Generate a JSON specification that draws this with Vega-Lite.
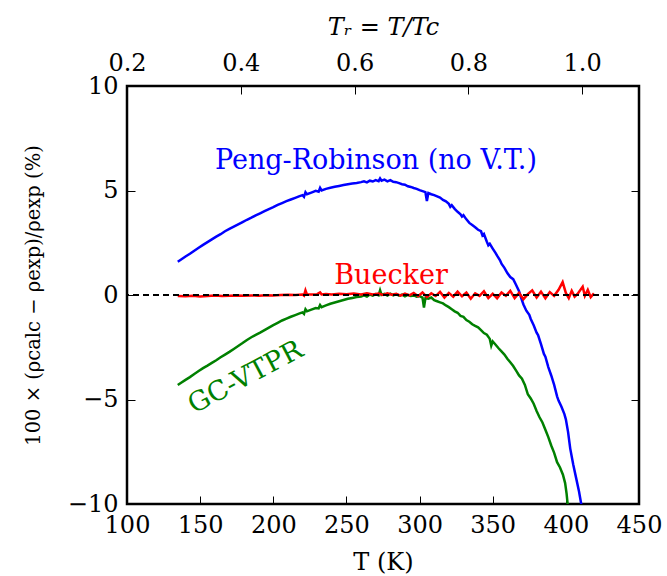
{
  "$schema": "https://vega.github.io/schema/vega-lite/v6.json",
  "width": 512,
  "height": 418,
  "padding": {"left": 23, "top": 15, "right": 5, "bottom": 5},
  "background": "white",
  "config": {
    "font": "DejaVu Serif",
    "view": {"stroke": "black", "strokeWidth": 2.5},
    "axis": {
      "domain": false, "grid": false, "tickColor": "black", "tickWidth": 1, "tickSize": -8,
      "labelFont": "DejaVu Serif", "titleFont": "DejaVu Serif",
      "labelFontSize": 24, "titleFontSize": 24, "labelColor": "black", "titleColor": "black",
      "titleFontWeight": "normal", "labelFlush": false, "labelOverlap": false, "labelBound": false
    }
  },
  "datasets": {
    "curves": [
      {"m":"PR","T":134.7,"v":1.59},{"m":"PR","T":137,"v":1.70},{"m":"PR","T":140,"v":1.84},{"m":"PR","T":143,"v":1.97},{"m":"PR","T":146,"v":2.12},{"m":"PR","T":149,"v":2.26},{"m":"PR","T":152,"v":2.40},{"m":"PR","T":155,"v":2.53},{"m":"PR","T":158,"v":2.66},{"m":"PR","T":161,"v":2.79},{"m":"PR","T":164,"v":2.91},{"m":"PR","T":167,"v":3.05},{"m":"PR","T":170,"v":3.16},{"m":"PR","T":173,"v":3.27},{"m":"PR","T":176,"v":3.38},{"m":"PR","T":179,"v":3.49},{"m":"PR","T":182,"v":3.60},{"m":"PR","T":185,"v":3.70},{"m":"PR","T":188,"v":3.81},{"m":"PR","T":191,"v":3.91},{"m":"PR","T":194,"v":4.01},{"m":"PR","T":197,"v":4.11},{"m":"PR","T":200,"v":4.20},{"m":"PR","T":203,"v":4.31},{"m":"PR","T":206,"v":4.40},{"m":"PR","T":209,"v":4.49},{"m":"PR","T":212,"v":4.57},{"m":"PR","T":215,"v":4.65},{"m":"PR","T":218,"v":4.73},{"m":"PR","T":220,"v":4.78},{"m":"PR","T":221,"v":4.70},{"m":"PR","T":222,"v":4.92},{"m":"PR","T":223,"v":4.82},{"m":"PR","T":226,"v":4.90},{"m":"PR","T":229,"v":4.98},{"m":"PR","T":231,"v":4.94},{"m":"PR","T":232,"v":5.12},{"m":"PR","T":233,"v":5.00},{"m":"PR","T":236,"v":5.08},{"m":"PR","T":239,"v":5.13},{"m":"PR","T":242,"v":5.18},{"m":"PR","T":245,"v":5.22},{"m":"PR","T":248,"v":5.26},{"m":"PR","T":251,"v":5.30},{"m":"PR","T":254,"v":5.33},{"m":"PR","T":257,"v":5.36},{"m":"PR","T":260,"v":5.40},{"m":"PR","T":262,"v":5.44},{"m":"PR","T":264,"v":5.39},{"m":"PR","T":266,"v":5.47},{"m":"PR","T":268,"v":5.43},{"m":"PR","T":270,"v":5.50},{"m":"PR","T":272,"v":5.45},{"m":"PR","T":273,"v":5.58},{"m":"PR","T":274,"v":5.47},{"m":"PR","T":276,"v":5.52},{"m":"PR","T":278,"v":5.44},{"m":"PR","T":280,"v":5.50},{"m":"PR","T":282,"v":5.42},{"m":"PR","T":284,"v":5.40},{"m":"PR","T":286,"v":5.35},{"m":"PR","T":288,"v":5.30},{"m":"PR","T":290,"v":5.28},{"m":"PR","T":292,"v":5.20},{"m":"PR","T":294,"v":5.17},{"m":"PR","T":296,"v":5.12},{"m":"PR","T":298,"v":5.08},{"m":"PR","T":300,"v":5.02},{"m":"PR","T":302,"v":4.97},{"m":"PR","T":304,"v":4.92},{"m":"PR","T":305,"v":4.50},{"m":"PR","T":306,"v":4.88},{"m":"PR","T":308,"v":4.82},{"m":"PR","T":310,"v":4.78},{"m":"PR","T":312,"v":4.72},{"m":"PR","T":314,"v":4.66},{"m":"PR","T":316,"v":4.55},{"m":"PR","T":318,"v":4.48},{"m":"PR","T":320,"v":4.36},{"m":"PR","T":321,"v":4.22},{"m":"PR","T":322,"v":4.30},{"m":"PR","T":324,"v":4.12},{"m":"PR","T":326,"v":3.98},{"m":"PR","T":328,"v":3.86},{"m":"PR","T":329,"v":3.75},{"m":"PR","T":330,"v":3.82},{"m":"PR","T":332,"v":3.62},{"m":"PR","T":334,"v":3.45},{"m":"PR","T":336,"v":3.35},{"m":"PR","T":338,"v":3.24},{"m":"PR","T":340,"v":3.12},{"m":"PR","T":342,"v":3.05},{"m":"PR","T":343,"v":2.85},{"m":"PR","T":344,"v":2.92},{"m":"PR","T":346,"v":2.55},{"m":"PR","T":347,"v":2.38},{"m":"PR","T":348,"v":2.45},{"m":"PR","T":350,"v":2.22},{"m":"PR","T":352,"v":2.00},{"m":"PR","T":353,"v":1.88},{"m":"PR","T":355,"v":1.66},{"m":"PR","T":356,"v":1.50},{"m":"PR","T":358,"v":1.30},{"m":"PR","T":360,"v":1.05},{"m":"PR","T":362,"v":0.86},{"m":"PR","T":364,"v":0.76},{"m":"PR","T":366,"v":0.48},{"m":"PR","T":368,"v":0.18},{"m":"PR","T":369.5,"v":-0.15},{"m":"PR","T":371,"v":-0.45},{"m":"PR","T":373,"v":-0.75},{"m":"PR","T":375,"v":-0.95},{"m":"PR","T":376,"v":-1.15},{"m":"PR","T":378,"v":-1.45},{"m":"PR","T":380,"v":-1.80},{"m":"PR","T":381,"v":-1.92},{"m":"PR","T":383,"v":-2.35},{"m":"PR","T":385,"v":-2.82},{"m":"PR","T":386,"v":-2.95},{"m":"PR","T":388,"v":-3.45},{"m":"PR","T":390,"v":-3.85},{"m":"PR","T":392,"v":-4.30},{"m":"PR","T":394,"v":-4.85},{"m":"PR","T":395,"v":-5.05},{"m":"PR","T":397,"v":-5.35},{"m":"PR","T":399,"v":-5.70},{"m":"PR","T":400,"v":-5.95},{"m":"PR","T":401.5,"v":-6.55},{"m":"PR","T":403,"v":-7.35},{"m":"PR","T":405,"v":-8.10},{"m":"PR","T":407,"v":-8.75},{"m":"PR","T":409,"v":-9.40},{"m":"PR","T":411,"v":-10.2},
      {"m":"GC","T":134.7,"v":-4.31},{"m":"GC","T":137,"v":-4.20},{"m":"GC","T":140,"v":-4.06},{"m":"GC","T":143,"v":-3.93},{"m":"GC","T":146,"v":-3.78},{"m":"GC","T":149,"v":-3.64},{"m":"GC","T":152,"v":-3.50},{"m":"GC","T":155,"v":-3.38},{"m":"GC","T":158,"v":-3.25},{"m":"GC","T":161,"v":-3.12},{"m":"GC","T":164,"v":-2.98},{"m":"GC","T":167,"v":-2.85},{"m":"GC","T":170,"v":-2.72},{"m":"GC","T":173,"v":-2.58},{"m":"GC","T":176,"v":-2.44},{"m":"GC","T":179,"v":-2.30},{"m":"GC","T":182,"v":-2.15},{"m":"GC","T":185,"v":-2.02},{"m":"GC","T":188,"v":-1.91},{"m":"GC","T":191,"v":-1.80},{"m":"GC","T":194,"v":-1.68},{"m":"GC","T":197,"v":-1.56},{"m":"GC","T":200,"v":-1.44},{"m":"GC","T":203,"v":-1.33},{"m":"GC","T":206,"v":-1.22},{"m":"GC","T":209,"v":-1.13},{"m":"GC","T":212,"v":-1.04},{"m":"GC","T":215,"v":-0.96},{"m":"GC","T":218,"v":-0.88},{"m":"GC","T":220,"v":-0.83},{"m":"GC","T":221,"v":-0.90},{"m":"GC","T":222,"v":-0.68},{"m":"GC","T":223,"v":-0.78},{"m":"GC","T":226,"v":-0.70},{"m":"GC","T":229,"v":-0.62},{"m":"GC","T":231,"v":-0.64},{"m":"GC","T":232,"v":-0.48},{"m":"GC","T":233,"v":-0.58},{"m":"GC","T":236,"v":-0.50},{"m":"GC","T":239,"v":-0.42},{"m":"GC","T":242,"v":-0.36},{"m":"GC","T":245,"v":-0.30},{"m":"GC","T":248,"v":-0.24},{"m":"GC","T":251,"v":-0.18},{"m":"GC","T":254,"v":-0.14},{"m":"GC","T":257,"v":-0.10},{"m":"GC","T":260,"v":-0.07},{"m":"GC","T":262,"v":-0.02},{"m":"GC","T":264,"v":-0.08},{"m":"GC","T":266,"v":0.02},{"m":"GC","T":268,"v":-0.03},{"m":"GC","T":270,"v":0.04},{"m":"GC","T":272,"v":-0.02},{"m":"GC","T":273,"v":0.22},{"m":"GC","T":274,"v":0.00},{"m":"GC","T":276,"v":0.05},{"m":"GC","T":278,"v":-0.03},{"m":"GC","T":280,"v":0.06},{"m":"GC","T":282,"v":-0.02},{"m":"GC","T":284,"v":0.04},{"m":"GC","T":286,"v":-0.03},{"m":"GC","T":288,"v":0.02},{"m":"GC","T":290,"v":-0.06},{"m":"GC","T":292,"v":0.01},{"m":"GC","T":294,"v":-0.05},{"m":"GC","T":296,"v":-0.02},{"m":"GC","T":298,"v":-0.08},{"m":"GC","T":300,"v":-0.05},{"m":"GC","T":302,"v":-0.12},{"m":"GC","T":303,"v":-0.60},{"m":"GC","T":304,"v":-0.15},{"m":"GC","T":306,"v":-0.18},{"m":"GC","T":308,"v":-0.12},{"m":"GC","T":310,"v":-0.25},{"m":"GC","T":312,"v":-0.30},{"m":"GC","T":314,"v":-0.35},{"m":"GC","T":316,"v":-0.40},{"m":"GC","T":318,"v":-0.50},{"m":"GC","T":320,"v":-0.58},{"m":"GC","T":322,"v":-0.68},{"m":"GC","T":324,"v":-0.78},{"m":"GC","T":326,"v":-0.85},{"m":"GC","T":328,"v":-1.00},{"m":"GC","T":330,"v":-1.05},{"m":"GC","T":332,"v":-1.20},{"m":"GC","T":334,"v":-1.28},{"m":"GC","T":336,"v":-1.40},{"m":"GC","T":338,"v":-1.48},{"m":"GC","T":340,"v":-1.55},{"m":"GC","T":342,"v":-1.68},{"m":"GC","T":344,"v":-1.82},{"m":"GC","T":346,"v":-1.90},{"m":"GC","T":348,"v":-2.10},{"m":"GC","T":349,"v":-2.42},{"m":"GC","T":350,"v":-2.22},{"m":"GC","T":352,"v":-2.38},{"m":"GC","T":354,"v":-2.55},{"m":"GC","T":356,"v":-2.70},{"m":"GC","T":358,"v":-2.85},{"m":"GC","T":360,"v":-3.05},{"m":"GC","T":362,"v":-3.22},{"m":"GC","T":364,"v":-3.40},{"m":"GC","T":366,"v":-3.62},{"m":"GC","T":368,"v":-3.85},{"m":"GC","T":370,"v":-4.00},{"m":"GC","T":372,"v":-4.30},{"m":"GC","T":374,"v":-4.75},{"m":"GC","T":376,"v":-4.95},{"m":"GC","T":378,"v":-5.20},{"m":"GC","T":380,"v":-5.55},{"m":"GC","T":382,"v":-5.85},{"m":"GC","T":384,"v":-6.10},{"m":"GC","T":386,"v":-6.45},{"m":"GC","T":388,"v":-6.80},{"m":"GC","T":390,"v":-7.20},{"m":"GC","T":392,"v":-7.55},{"m":"GC","T":394,"v":-8.00},{"m":"GC","T":396,"v":-8.25},{"m":"GC","T":398,"v":-8.60},{"m":"GC","T":399.5,"v":-9.00},{"m":"GC","T":400.5,"v":-9.50},{"m":"GC","T":401.5,"v":-10.2},
      {"m":"BU","T":134.7,"v":-0.05},{"m":"BU","T":140,"v":-0.06},{"m":"BU","T":145,"v":-0.04},{"m":"BU","T":150,"v":-0.07},{"m":"BU","T":155,"v":-0.05},{"m":"BU","T":160,"v":-0.03},{"m":"BU","T":165,"v":-0.05},{"m":"BU","T":170,"v":-0.04},{"m":"BU","T":175,"v":-0.02},{"m":"BU","T":180,"v":-0.04},{"m":"BU","T":185,"v":-0.02},{"m":"BU","T":190,"v":-0.03},{"m":"BU","T":195,"v":-0.01},{"m":"BU","T":200,"v":-0.02},{"m":"BU","T":205,"v":0.00},{"m":"BU","T":210,"v":0.01},{"m":"BU","T":215,"v":0.00},{"m":"BU","T":220,"v":0.02},{"m":"BU","T":221,"v":-0.03},{"m":"BU","T":222,"v":0.22},{"m":"BU","T":223,"v":0.03},{"m":"BU","T":226,"v":0.02},{"m":"BU","T":230,"v":0.04},{"m":"BU","T":232,"v":0.12},{"m":"BU","T":233,"v":0.03},{"m":"BU","T":236,"v":0.05},{"m":"BU","T":240,"v":0.03},{"m":"BU","T":245,"v":0.06},{"m":"BU","T":250,"v":0.04},{"m":"BU","T":255,"v":0.07},{"m":"BU","T":260,"v":0.03},{"m":"BU","T":264,"v":0.08},{"m":"BU","T":268,"v":0.02},{"m":"BU","T":272,"v":0.07},{"m":"BU","T":275,"v":0.00},{"m":"BU","T":278,"v":0.08},{"m":"BU","T":281,"v":0.01},{"m":"BU","T":284,"v":0.06},{"m":"BU","T":287,"v":-0.03},{"m":"BU","T":290,"v":0.07},{"m":"BU","T":293,"v":-0.02},{"m":"BU","T":296,"v":0.10},{"m":"BU","T":299,"v":-0.06},{"m":"BU","T":302,"v":0.12},{"m":"BU","T":305,"v":-0.10},{"m":"BU","T":308,"v":0.08},{"m":"BU","T":311,"v":-0.05},{"m":"BU","T":314,"v":0.15},{"m":"BU","T":317,"v":-0.12},{"m":"BU","T":320,"v":0.10},{"m":"BU","T":323,"v":-0.08},{"m":"BU","T":326,"v":0.16},{"m":"BU","T":329,"v":-0.06},{"m":"BU","T":332,"v":0.12},{"m":"BU","T":335,"v":-0.18},{"m":"BU","T":338,"v":0.08},{"m":"BU","T":341,"v":-0.04},{"m":"BU","T":344,"v":0.18},{"m":"BU","T":347,"v":-0.15},{"m":"BU","T":350,"v":0.06},{"m":"BU","T":353,"v":-0.16},{"m":"BU","T":356,"v":0.12},{"m":"BU","T":359,"v":-0.04},{"m":"BU","T":362,"v":0.20},{"m":"BU","T":365,"v":-0.15},{"m":"BU","T":368,"v":0.10},{"m":"BU","T":371,"v":-0.20},{"m":"BU","T":374,"v":0.04},{"m":"BU","T":377,"v":0.22},{"m":"BU","T":380,"v":-0.12},{"m":"BU","T":383,"v":0.16},{"m":"BU","T":386,"v":-0.16},{"m":"BU","T":389,"v":0.14},{"m":"BU","T":392,"v":-0.04},{"m":"BU","T":395,"v":0.25},{"m":"BU","T":397.8,"v":0.62},{"m":"BU","T":400,"v":0.10},{"m":"BU","T":402,"v":-0.15},{"m":"BU","T":404,"v":0.20},{"m":"BU","T":406,"v":-0.08},{"m":"BU","T":408,"v":0.05},{"m":"BU","T":411.5,"v":0.40},{"m":"BU","T":413,"v":-0.04},{"m":"BU","T":415,"v":0.25},{"m":"BU","T":417,"v":-0.10},{"m":"BU","T":419.2,"v":0.08}
    ],
    "labels": [
      {"m":"PR","T":270.2,"v":6.4,"label":"Peng-Robinson (no V.T.)"},
      {"m":"BU","T":280.5,"v":0.9,"label":"Buecker"},
      {"m":"GC","T":181,"v":-3.95,"label":"GC-VTPR"}
    ],
    "tr": [{"Tr":0.2,"v":-10},{"Tr":1.1,"v":10}]
  },
  "layer": [
    {
      "encoding": {
        "x": {"field":"T","type":"quantitative","scale":{"domain":[100,450],"nice":false,"zero":false},
              "axis":{"title":"T (K)","values":[100,150,200,250,300,350,400,450],"labelPadding":17,"titlePadding":13}},
        "y": {"field":"v","type":"quantitative","scale":{"domain":[-10,10],"nice":false},
              "axis":{"title":"100 × (ρcalc − ρexp)/ρexp (%)","titleFontSize":19.5,"values":[-10,-5,0,5,10],"labelPadding":17,"titlePadding":24}},
        "color": {"field":"m","type":"nominal","scale":{"domain":["PR","BU","GC"],"range":["#0000ff","#ff0000","#008000"]},"legend":null}
      },
      "layer": [
        {"data":{"name":"curves"},"mark":{"type":"line","strokeWidth":2.5,"clip":true}},
        {"data":{"values":[{"z":0}]},"mark":{"type":"rule","color":"black","strokeWidth":2,"strokeDash":[6,4]},
         "encoding":{"y":{"field":"z","type":"quantitative"},"x":null,"color":null}},
        {"data":{"name":"labels"},"transform":[{"filter":"datum.m !== 'GC'"}],
         "mark":{"type":"text","fontSize":27,"font":"DejaVu Serif","align":"center","baseline":"middle"},
         "encoding":{"text":{"field":"label"}}},
        {"data":{"name":"labels"},"transform":[{"filter":"datum.m === 'GC'"}],
         "mark":{"type":"text","fontSize":27,"font":"DejaVu Serif","align":"center","baseline":"middle","angle":332},
         "encoding":{"text":{"field":"label"}}}
      ]
    },
    {
      "data":{"name":"tr"},
      "mark":{"type":"point","opacity":0},
      "encoding":{
        "x":{"field":"Tr","type":"quantitative","scale":{"domain":[0.2,1.1],"nice":false,"zero":false},
             "axis":{"orient":"top","title":"Tᵣ = T/Tc","titleFontStyle":"italic","titleFontSize":24,"values":[0.2,0.4,0.6,0.8,1.0],"format":".1f","labelPadding":19,"titlePadding":12}},
        "y":{"field":"v","type":"quantitative","scale":{"domain":[-10,10],"nice":false},
             "axis":{"orient":"right","title":null,"labels":false,"values":[-10,-5,0,5,10]}}
      }
    }
  ],
  "resolve": {"scale": {"x":"independent","y":"independent"}}
}
